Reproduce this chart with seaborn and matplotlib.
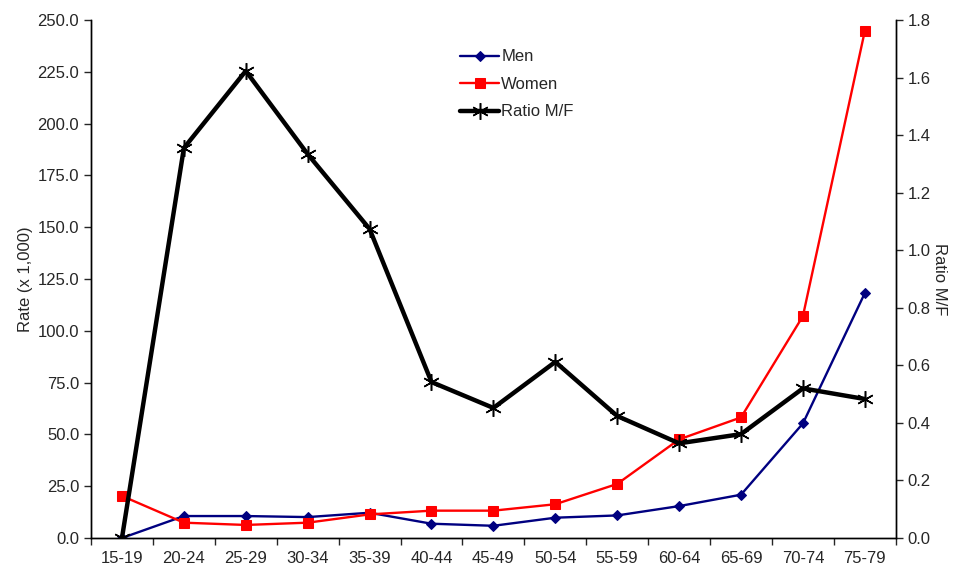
import pandas as pd
import matplotlib.pyplot as plt
import seaborn as sns

sns.set_style("white")
plt.rcParams['font.family'] = ['Liberation Sans', 'DejaVu Sans']

age_groups = ['15-19', '20-24', '25-29', '30-34', '35-39', '40-44', '45-49',
              '50-54', '55-59', '60-64', '65-69', '70-74', '75-79']
men = [0.0, 10.6, 10.6, 10.1, 12.2, 6.9, 5.9, 9.8, 10.9, 15.4, 20.9, 55.3, 118.2]
women = [20.3, 7.4, 6.3, 7.4, 11.4, 13.2, 13.2, 16.3, 26.1, 47.6, 58.2, 107.1, 244.7]
ratio = [0.0, 1.355, 1.623, 1.334, 1.074, 0.542, 0.452, 0.612, 0.424, 0.329, 0.361, 0.520, 0.483]

df = pd.DataFrame({'Age': age_groups, 'Men': men, 'Women': women, 'Ratio': ratio})

fig = plt.figure(figsize=(9.56, 5.74), dpi=100)
ax = fig.add_axes([0.0952, 0.0627, 0.8418, 0.9024])
ax2 = ax.twinx()

sns.lineplot(data=df, x='Age', y='Men', ax=ax, color='#000080', lw=1.7,
             marker='D', markersize=5.5, markeredgecolor='#000080', label='Men', legend=False, sort=False)
sns.lineplot(data=df, x='Age', y='Women', ax=ax, color='#ff0000', lw=1.7,
             marker='s', markersize=7, markeredgecolor='#ff0000', label='Women', legend=False, sort=False)
sns.lineplot(data=df, x='Age', y='Ratio', ax=ax2, color='black', lw=3.2,
             marker=(6, 2, 0), markersize=12, markeredgewidth=1.1, markeredgecolor='black',
             label='Ratio M/F', legend=False, sort=False)

ax.set_xlim(-0.5, len(age_groups) - 0.5)
ax.set_ylim(0, 250)
ax2.set_ylim(0, 1.8)
ax.set_yticks([i * 25 for i in range(11)])
ax.set_yticklabels([f'{i * 25:.1f}' for i in range(11)])
ax2.set_yticks([i * 0.2 for i in range(10)])
ax2.set_yticklabels([f'{i * 0.2:.1f}' for i in range(10)])

# category ticks between groups, labels centred
ax.set_xticks(range(len(age_groups)))
ax.set_xticklabels(age_groups)
ax.set_xticks([i - 0.5 for i in range(len(age_groups) + 1)], minor=True)
ax.tick_params(axis='x', which='major', length=0, pad=9, labelsize=12)
ax.tick_params(axis='x', which='minor', length=5, width=1, direction='out', bottom=True)
ax.tick_params(axis='y', length=5, width=1, direction='out', left=True, labelsize=12)
ax2.tick_params(axis='y', length=5, width=1, direction='out', right=True, labelsize=12)

ax.set_xlabel('')
ax.set_ylabel('Rate (x 1,000)', fontsize=12, labelpad=3)
ax2.set_ylabel('Ratio M/F', fontsize=12, rotation=270, labelpad=12)

for a in (ax, ax2):
    a.spines['top'].set_visible(False)
    for s in ('left', 'right', 'bottom'):
        a.spines[s].set_color('black')
        a.spines[s].set_linewidth(1)
    a.grid(False)

h1, l1 = ax.get_legend_handles_labels()
h2, l2 = ax2.get_legend_handles_labels()
fig.legend(h1 + h2, l1 + l2, loc='upper left', bbox_to_anchor=(0.466, 0.94),
           frameon=False, fontsize=12, handlelength=2.3, labelspacing=0.75, handletextpad=0.15)

fig.savefig('out.png', dpi=100)
